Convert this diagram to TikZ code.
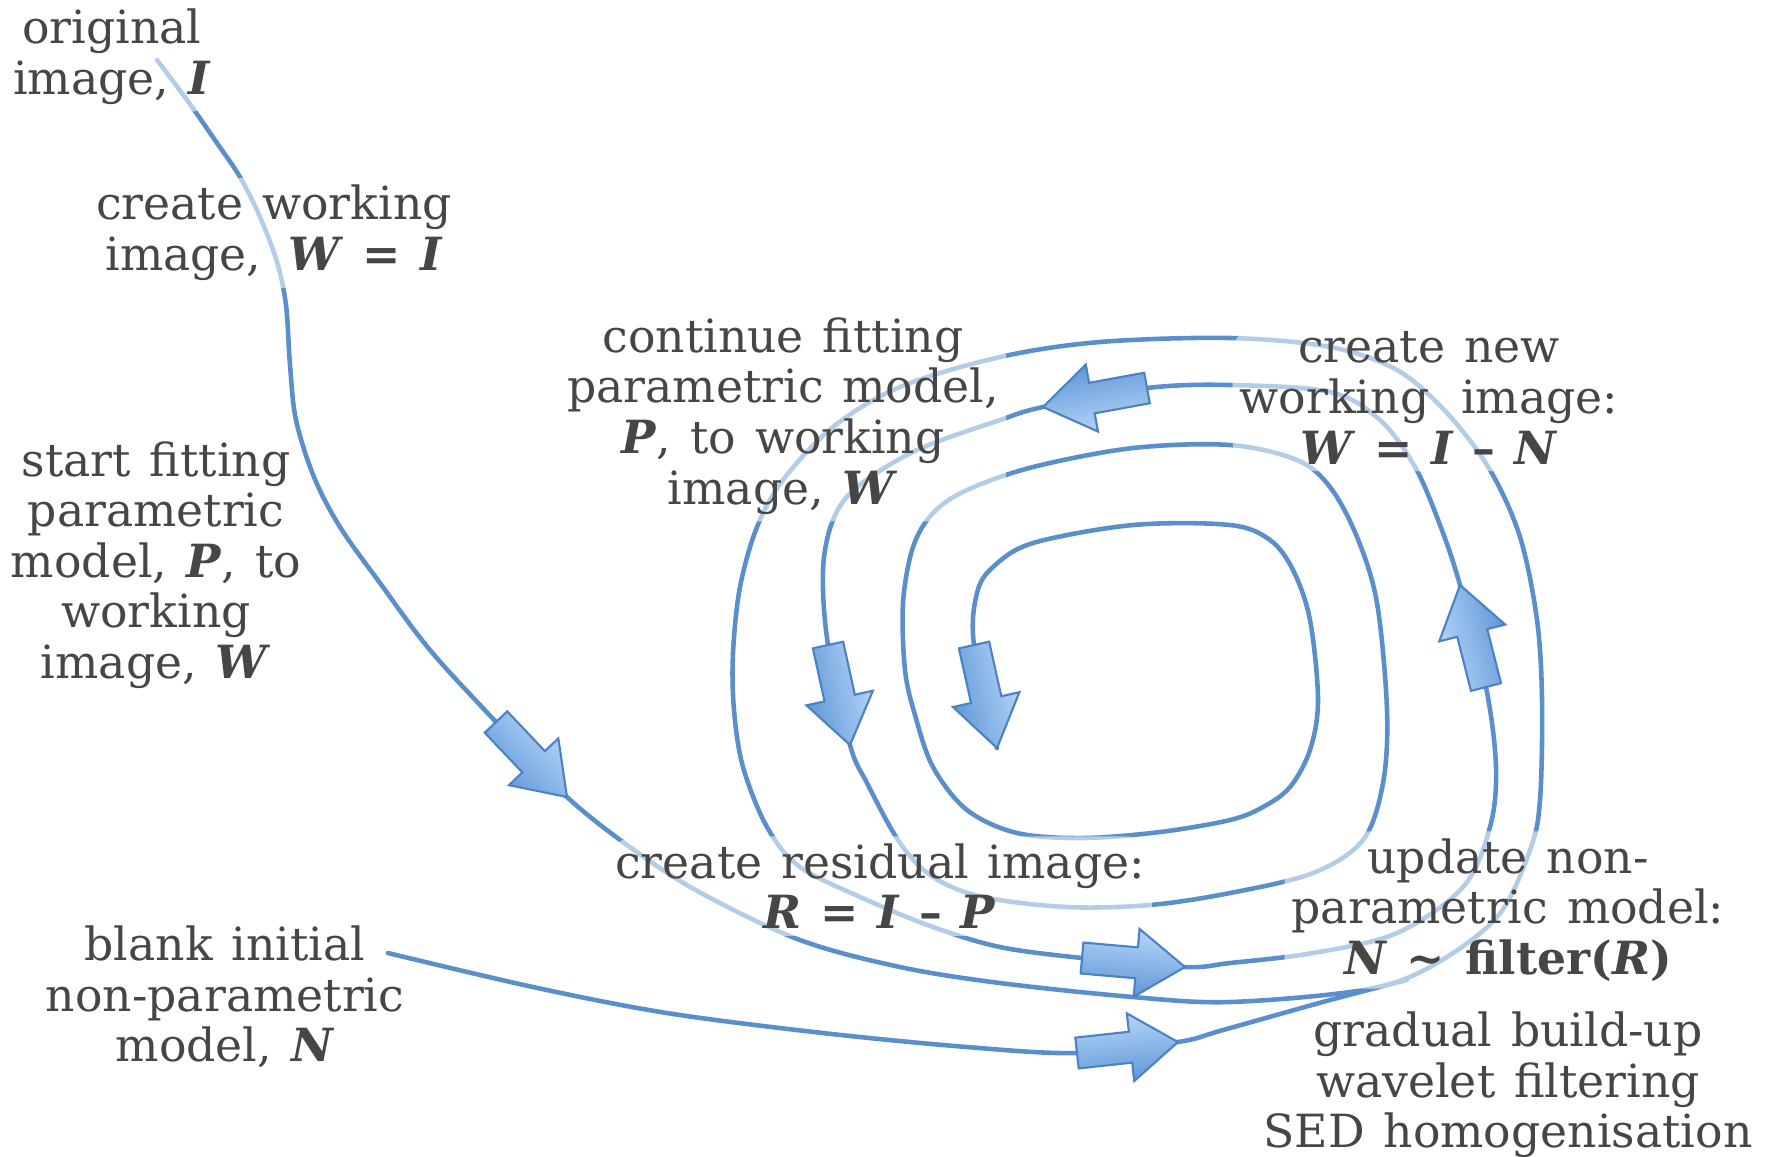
\documentclass[tikz,border=0pt]{standalone}
\usepackage{fontspec}
\setmainfont{DejaVu Serif}[WordSpace=1.3]
\usetikzlibrary{calc}

\definecolor{flowblue}{HTML}{5B8FCB}
\definecolor{arrowedge}{HTML}{4A82C4}
\definecolor{arrowlight}{HTML}{B8D6F7}
\definecolor{arrowdark}{HTML}{5E96D8}
\definecolor{textgrey}{HTML}{464646}

% bold italic symbol
\newcommand{\bi}[1]{\textbf{\textit{#1}}}

% block arrow from tail #1 to tip #2, shading angle #3
\newcommand{\blockarrow}[3]{%
  \path[barrow, shading angle=#3]
    ($(#1)!1.55mm!90:(#2)$) --
    ($(#1)!0.53!(#2)!1.55mm!90:(#2)$) --
    ($(#1)!0.53!(#2)!3.4mm!90:(#2)$) --
    (#2) --
    ($(#1)!0.53!(#2)!3.4mm!-90:(#2)$) --
    ($(#1)!0.53!(#2)!1.55mm!-90:(#2)$) --
    ($(#1)!1.55mm!-90:(#2)$) -- cycle;}

\begin{document}
\begin{tikzpicture}[x=0.01cm, y=-0.01cm,
  flow/.style={draw=flowblue, line width=1.3pt, line cap=round, line join=round},
  plainlbl/.style={align=center, text=textgrey, font=\fontsize{13}{14.4}\selectfont, inner sep=2pt},
  lbl/.style={plainlbl, fill=white, fill opacity=0.55, text opacity=1, rounded corners=8pt},
  barrow/.style={draw=arrowedge, line width=0.6pt, line join=miter,
    top color=arrowlight, bottom color=arrowdark}]

\useasboundingbox (0,0) rectangle (1767,1156);

% arrow tails and tips
\coordinate (a1t) at (496,722);   \coordinate (a1h) at (567,797);
\coordinate (a2t) at (1082,958);  \coordinate (a2h) at (1185,967);
\coordinate (a3t) at (1486,687);  \coordinate (a3h) at (1460,585);
\coordinate (a4t) at (1147,388);  \coordinate (a4h) at (1043,407);
\coordinate (a5t) at (828,645);   \coordinate (a5h) at (850,745);
\coordinate (a6t) at (974,645);   \coordinate (a6h) at (997,748);
\coordinate (a7t) at (1077,1053); \coordinate (a7h) at (1178,1042);
\coordinate (merge) at (1407,980);

% the spiral
\draw[flow] plot[smooth, tension=0.55] coordinates {
  (157,60) (187,100) (217,143) (240,177) (260,217) (277,262) (286,305)
  (290,365) (296,420) (314,477) (340,527) (380,583) (430,650) (a1t) (a1h)
  (634,850) (701,893) (800,940) (900,967) (1000,983) (1133,997) (1230,1002)
  (1363,990) (1430,967) (1497,917) (1530,850) (1540,800) (1542,700)
  (1537,620) (1520,537) (1490,470) (1447,413) (1397,370) (1330,347)
  (1230,338) (1100,342) (1000,357) (900,387) (833,427) (783,480) (757,527)
  (740,587) (733,653) (734,710) (743,767) (767,827) (800,867) (867,900)
  (933,927) (1000,947) (a2t) (a2h)
  (1230,963) (1313,953) (1397,933) (1463,887) (1490,827) (1496,767)
  (a3t) (a3h)
  (1440,525) (1415,467) (1380,420) (1330,392) (1230,385) (a4t) (a4h)
  (1000,420) (917,450) (857,487) (833,520) (823,570) (a5t) (a5h)
  (867,783) (900,843) (933,877) (983,897) (1067,907) (1150,905) (1230,893)
  (1313,873) (1363,840) (1383,783) (1387,710) (1377,603) (1357,537)
  (1330,487) (1297,460) (1230,445) (1133,448) (1033,467) (967,490)
  (933,513) (913,547) (903,603) (905,670) (915,715) (933,767) (967,810)
  (1017,833) (1083,838) (1160,832) (1230,820) (1263,807) (1290,787)
  (1310,750) (1318,700) (1310,620) (1293,570) (1270,540) (1230,525)
  (1133,525) (1033,543) (993,567) (977,593) (a6t) (a6h)};

% blank model joining the loop
\draw[flow] plot[smooth, tension=0.55] coordinates {
  (388,953) (533,987) (667,1013) (823,1033) (967,1047) (a7t) (a7h)
  (1223,1030) (1330,1000) (merge)};

% labels
\node[lbl] (orig) at (112,57) {original\\image, \bi{I}};
\node[lbl] (work) at (274,233) {create working\\image,\hspace{0.6em}\bi{W} \textbf{=} \bi{I}};
\node[plainlbl] (startfit) at (156,565) {start fitting\\parametric\\model, \bi{P}, to\\working\\image, \bi{W}};
\node[lbl] (contfit) at (783,416) {continue fitting\\parametric model,\\\bi{P}, to working\\image, \bi{W}};
\node[lbl] (newwork) at (1429,398) {create new\\working\hspace{0.7em}image:\\\bi{W} \textbf{=} \bi{I} \textbf{–} \bi{N}};
\node[lbl] (resid) at (880,886) {create residual image:\\\bi{R} \textbf{=} \bi{I} \textbf{–} \bi{P}};
\node[lbl] (update) at (1508,910) {update non-\\parametric model:\\\bi{N} \textbf{\textasciitilde{} filter(\textit{R})}};
\node[plainlbl] (blank) at (225,997) {blank initial\\non-parametric\\model, \bi{N}};
\node[plainlbl] (notes) at (1508,1085) {gradual build-up\\wavelet filtering\\SED homogenisation};

% block arrows
\blockarrow{a1t}{a1h}{-46.6}
\blockarrow{a2t}{a2h}{-5}
\blockarrow{a3t}{a3h}{104}
\blockarrow{a4t}{a4h}{190}
\blockarrow{a5t}{a5h}{-77.6}
\blockarrow{a6t}{a6h}{-77.4}
\blockarrow{a7t}{a7h}{6.2}
\end{tikzpicture}
\end{document}
